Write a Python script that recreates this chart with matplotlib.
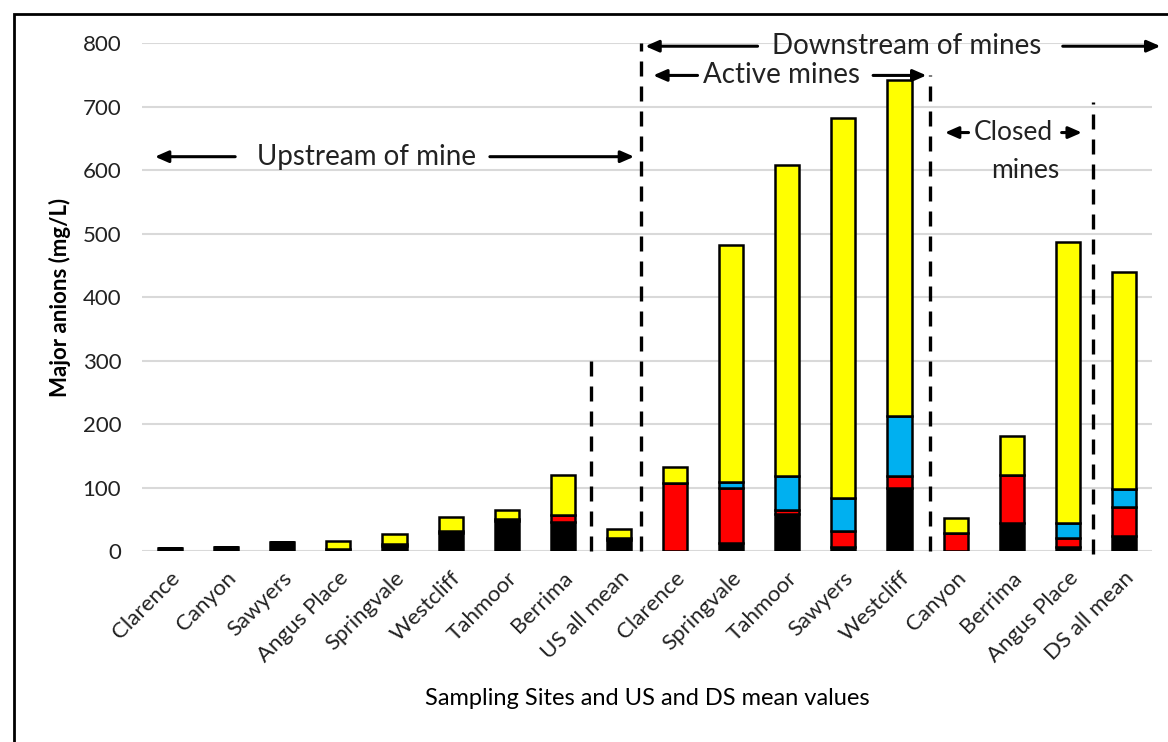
import matplotlib.pyplot as plt
from matplotlib.patches import Rectangle

sites = ["Clarence", "Canyon", "Sawyers", "Angus Place", "Springvale", "Westcliff",
         "Tahmoor", "Berrima", "US all mean", "Clarence", "Springvale", "Tahmoor",
         "Sawyers", "Westcliff", "Canyon", "Berrima", "Angus Place", "DS all mean"]

# stacked components (mg/L)
black = [5, 7, 14, 3, 8, 29, 48, 45, 18, 0, 13, 59, 7, 100, 0, 44, 7, 24]
red = [0, 0, 0, 0, 3, 3, 2, 12, 2, 107, 86, 6, 24, 18, 29, 76, 14, 45]
blue = [0, 0, 0, 0, 0, 0, 0, 0, 0, 0, 9, 53, 53, 94, 0, 0, 23, 29]
yellow = [0, 0, 0, 13, 16, 22, 15, 62, 15, 26, 374, 490, 598, 529, 23, 61, 442, 342]

plt.rcParams["font.family"] = ["Lato", "DejaVu Sans"]
plt.rcParams["text.color"] = "#222222"

fig = plt.figure(figsize=(11.68, 7.42), dpi=100)
ax = fig.add_axes([0.1216, 0.2574, 0.8647, 0.6846])

x = list(range(len(sites)))
bottom = [0] * len(sites)
for vals, col in [(black, "black"), (red, "#ff0000"), (blue, "#00b0f0"), (yellow, "#ffff00")]:
    ax.bar(x, vals, width=0.43, bottom=bottom, color=col, edgecolor="black",
           linewidth=1.8, zorder=3)
    bottom = [b + v for b, v in zip(bottom, vals)]

ax.set_xlim(-0.5, 17.5)
ax.set_ylim(0, 800)
ax.set_yticks(range(0, 801, 100))
ax.yaxis.grid(True, color="#d9d9d9", linewidth=1.5, zorder=0)
ax.set_axisbelow(True)
for s in ax.spines.values():
    s.set_visible(False)
ax.tick_params(length=0, labelcolor="#222222")
ax.set_xticks(x)
ax.set_xticklabels(sites, rotation=45, ha="right", rotation_mode="anchor", fontsize=16)
for lbl in ax.get_yticklabels():
    lbl.set_fontsize(16)
ax.tick_params(axis="y", pad=15)
ax.tick_params(axis="x", pad=12)

ax.set_ylabel("Major anions (mg/L)", fontsize=16, fontweight="bold", labelpad=8)
ax.set_xlabel("Sampling Sites and US and DS mean values", fontsize=17, labelpad=16)

# dashed dividers
dash = dict(color="black", linestyle=(0, (4.5, 3)), linewidth=2.4, zorder=4, clip_on=False)
ax.plot([7.5, 7.5], [0, 300], **dash)
ax.plot([8.4, 8.4], [0, 800], **dash)
ax.plot([13.55, 13.55], [0, 750], **dash)
ax.plot([16.45, 16.45], [-5, 707], **dash)

arrow = dict(arrowstyle="-|>,head_length=0.8,head_width=0.35", color="black", lw=2.2)


def harrow(x0, x1, y):
    ax.annotate("", xy=(x1, y), xytext=(x0, y), arrowprops=arrow, annotation_clip=False)


tsize = 20
ax.text(3.51, 621, "Upstream of mine", ha="center", va="center", fontsize=tsize)
harrow(1.21, -0.32, 621)
harrow(5.65, 8.32, 621)

ax.text(13.12, 795, "Downstream of mines", ha="center", va="center", fontsize=tsize)
harrow(10.52, 8.42, 795)
harrow(15.86, 17.7, 795)

ax.text(10.9, 749, "Active mines", ha="center", va="center", fontsize=tsize)
harrow(9.45, 8.56, 749)
harrow(12.48, 13.53, 749)

ax.text(15.03, 659, "Closed", ha="center", va="center", fontsize=19)
ax.text(15.24, 600, "mines", ha="center", va="center", fontsize=19)
harrow(14.28, 13.76, 659)
harrow(15.84, 16.3, 659)

# outer frame
fig.patches.append(Rectangle((14 / 1168, -0.05), 1.1, 1 - 14 / 742 + 0.05,
                             transform=fig.transFigure, fill=False,
                             edgecolor="black", linewidth=2))

fig.savefig("out.png", dpi=100)
